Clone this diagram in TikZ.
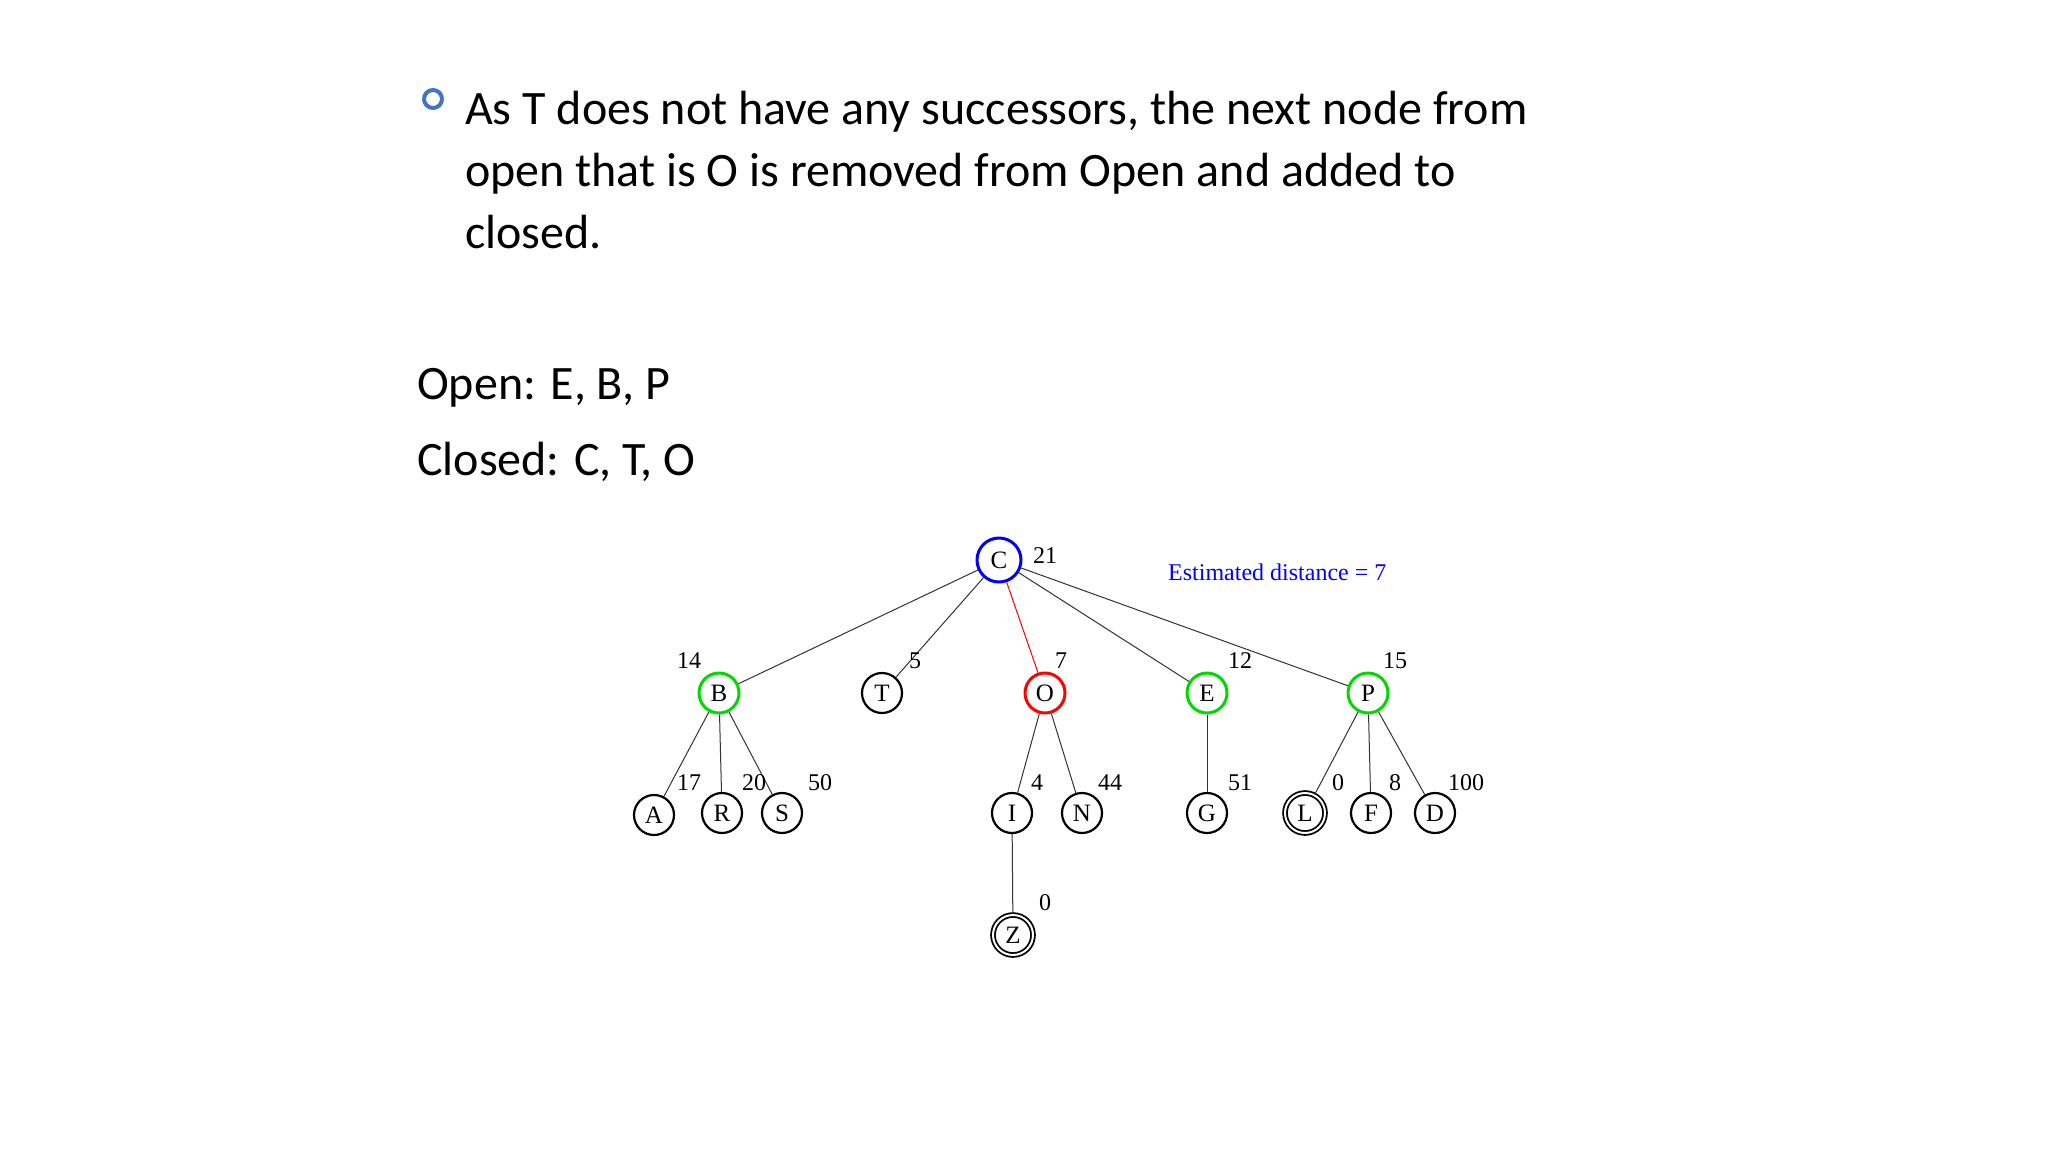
\documentclass[tikz,border=0pt]{standalone}
\usepackage{fontspec}
\setmainfont{Carlito}
\newfontfamily\treefont{Liberation Serif}
\begin{document}
\begin{tikzpicture}[x=1pt,y=-1pt,
  nd/.style={circle,draw=black,line width=2.2pt,minimum size=40pt,inner sep=0pt,font=\treefont\fontsize{25}{25}\selectfont},
  grn/.style={draw=green!85!black,line width=3pt},
  dbl/.style={double,double distance=2pt,line width=1.8pt},
  lbl/.style={font=\treefont\fontsize{24}{24}\selectfont,inner sep=0pt},
  ed/.style={line width=1pt,black!80},
  body/.style={font=\fontsize{48}{62}\selectfont,inner sep=0pt,anchor=base west}]
\useasboundingbox[fill=white] (0,0) rectangle (2048,1152);
% text
\draw[line width=4pt,color={rgb,255:red,68;green,114;blue,196}] (433,99) circle (9);
\node[body] (l1) at (465,124) {As T does not have any successors, the next node from};
\node[body] (l2) at (465,186) {open that is O is removed from Open and added to};
\node[body] (l3) at (465,248) {closed.};
\node[body] (op) at (417,399) {Open: E, B, P};
\node[body] (cl) at (417,475) {Closed: C, T, O};
% tree nodes
\node[nd,draw=blue,line width=3pt,minimum size=44pt] (C) at (999,560) {C};
\node[nd,grn] (B) at (719,693) {B};
\node[nd] (T) at (882,693) {T};
\node[nd,draw=red,line width=3pt] (O) at (1045,693) {O};
\node[nd,grn] (E) at (1207,693) {E};
\node[nd,grn] (P) at (1368,693) {P};
\node[nd] (A) at (654,815) {A};
\node[nd] (R) at (722,813) {R};
\node[nd] (S) at (782,813) {S};
\node[nd] (I) at (1012,813) {I};
\node[nd] (N) at (1082,813) {N};
\node[nd] (G) at (1207,813) {G};
\node[nd,dbl] (L) at (1305,813) {L};
\node[nd] (F) at (1371,813) {F};
\node[nd] (D) at (1435,813) {D};
\node[nd,dbl] (Z) at (1013,935) {Z};
% edges
\foreach \a/\b in {C/B,C/T,C/E,C/P,B/A,B/R,B/S,O/I,O/N,E/G,P/L,P/F,P/D,I/Z}
  \draw[ed] (\a) -- (\b);
\draw[line width=1pt,red] (C) -- (O);
% labels
\node[lbl] (n21) at (1045,556) {21};
\node[lbl,text=blue,anchor=west] (est) at (1168,572) {Estimated distance = 7};
\node[lbl] (n14) at (689,661) {14};
\node[lbl] (n5) at (915,661) {5};
\node[lbl] (n7) at (1061,661) {7};
\node[lbl] (n12) at (1240,661) {12};
\node[lbl] (n15) at (1395,661) {15};
\node[lbl] (n17) at (689,783) {17};
\node[lbl] (n20) at (754,783) {20};
\node[lbl] (n50) at (820,783) {50};
\node[lbl] (n4) at (1037,783) {4};
\node[lbl] (n44) at (1110,783) {44};
\node[lbl] (n51) at (1240,783) {51};
\node[lbl] (n0a) at (1338,783) {0};
\node[lbl] (n8) at (1395,783) {8};
\node[lbl] (n100) at (1466,783) {100};
\node[lbl] (n0b) at (1045,903) {0};
\end{tikzpicture}
\end{document}
